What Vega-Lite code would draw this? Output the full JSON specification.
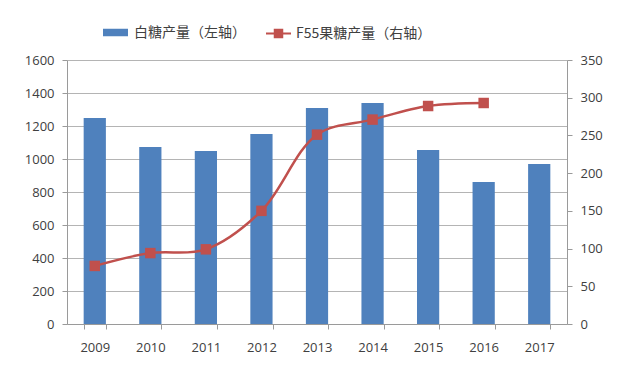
{
  "$schema": "https://vega.github.io/schema/vega-lite/v6.json",
  "width": 500,
  "height": 264,
  "autosize": "none",
  "padding": {"left": 67, "top": 60, "right": 68, "bottom": 56},
  "background": "white",
  "config": {
    "font": "Open Sans, Noto Sans CJK SC",
    "view": {"stroke": null},
    "axis": {
      "labelFont": "Open Sans, Noto Sans CJK SC",
      "labelFontSize": 13,
      "labelColor": "#404040",
      "domainColor": "#9a9a9a",
      "tickColor": "#9a9a9a",
      "gridColor": "#b4b4b4",
      "title": null
    },
    "legend": {
      "labelFont": "Noto Sans CJK SC",
      "labelFontSize": 14,
      "labelColor": "#404040",
      "title": null
    }
  },
  "data": {
    "values": [
      {"year": "2009", "sugar": 1248, "f55": 77},
      {"year": "2010", "sugar": 1073, "f55": 94},
      {"year": "2011", "sugar": 1048, "f55": 99},
      {"year": "2012", "sugar": 1152, "f55": 150},
      {"year": "2013", "sugar": 1309, "f55": 251},
      {"year": "2014", "sugar": 1339, "f55": 271},
      {"year": "2015", "sugar": 1055, "f55": 289},
      {"year": "2016", "sugar": 861, "f55": 293},
      {"year": "2017", "sugar": 970, "f55": null}
    ]
  },
  "encoding": {
    "x": {
      "field": "year",
      "type": "ordinal",
      "scale": {"paddingInner": 0.6, "paddingOuter": 0.3},
      "axis": {"labelAngle": 0, "tickBand": "extent", "tickSize": 5, "labelPadding": 12, "grid": false}
    }
  },
  "layer": [
    {
      "mark": {"type": "bar"},
      "encoding": {
        "y": {
          "field": "sugar",
          "type": "quantitative",
          "scale": {"domain": [0, 1600]},
          "axis": {"orient": "left", "format": "d", "values": [0, 200, 400, 600, 800, 1000, 1200, 1400, 1600], "grid": true, "tickSize": 5, "labelPadding": 8, "domain": true}
        },
        "fill": {
          "datum": "白糖产量（左轴）",
          "scale": {"range": ["#4F81BD"]},
          "legend": {
            "orient": "none",
            "legendX": 36,
            "legendY": -40,
            "symbolType": "M-1,-0.3H1V0.3H-1Z",
            "symbolSize": 625,
            "symbolStrokeWidth": 0,
            "labelOffset": 6
          }
        }
      }
    },
    {
      "transform": [{"filter": "datum.f55 != null"}],
      "mark": {"type": "line", "interpolate": "catmull-rom", "strokeWidth": 2.5},
      "encoding": {
        "y": {
          "field": "f55",
          "type": "quantitative",
          "scale": {"domain": [0, 350]},
          "axis": {"orient": "right", "values": [0, 50, 100, 150, 200, 250, 300, 350], "grid": false, "tickSize": 5, "labelPadding": 8, "domain": true}
        },
        "stroke": {
          "datum": "F55果糖产量（右轴）",
          "scale": {"range": ["#C0504D"]},
          "legend": {
            "orient": "none",
            "legendX": 198,
            "legendY": -40,
            "symbolType": "M-1,0H1M-0.3,-0.3H0.3V0.3H-0.3Z",
            "symbolSize": 625,
            "symbolFillColor": "#C0504D",
            "symbolStrokeWidth": 2,
            "labelOffset": 4
          }
        }
      }
    },
    {
      "transform": [{"filter": "datum.f55 != null"}],
      "mark": {"type": "point", "shape": "square", "filled": true, "size": 110, "color": "#C0504D", "opacity": 1},
      "encoding": {
        "y": {"field": "f55", "type": "quantitative", "scale": {"domain": [0, 350]}, "axis": null}
      }
    }
  ],
  "resolve": {"scale": {"y": "independent"}}
}
